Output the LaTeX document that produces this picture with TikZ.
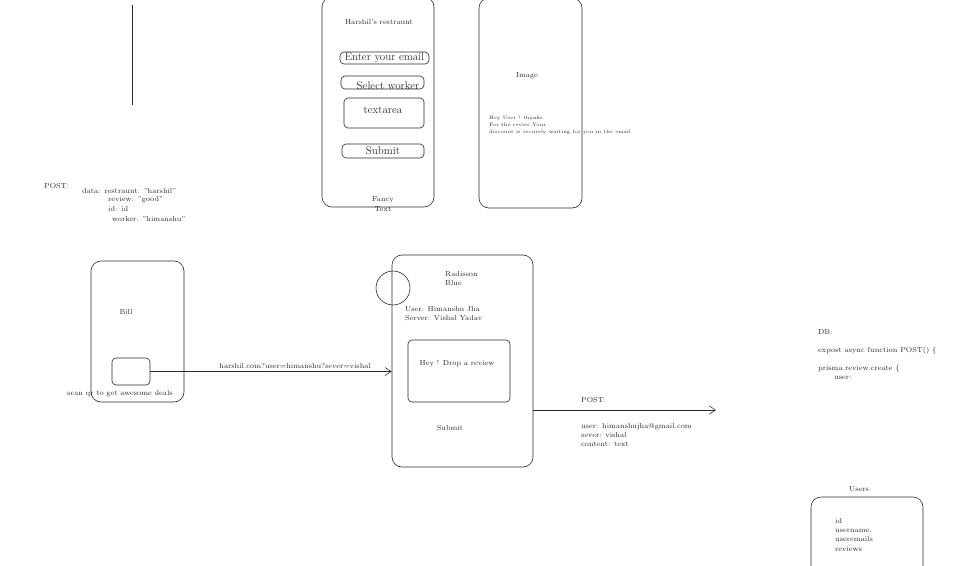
\documentclass[tikz,border=0pt]{standalone}
\usepackage{tikz}
\usepackage{xcolor}
\usetikzlibrary{arrows.meta,positioning}
\definecolor{ink}{HTML}{2A2A2A}

\begin{document}
\begin{tikzpicture}[x=1pt,y=-1pt, every node/.style={text=ink,inner sep=0pt}, phone/.style={draw=ink,line width=0.6pt,rounded corners=10pt}, field/.style={draw=ink,line width=0.6pt,rounded corners=4pt}, lbl/.style={font=\fontsize{7.3}{9.3}\selectfont}, big/.style={font=\fontsize{11}{13}\selectfont}, tiny/.style={font=\fontsize{4.9}{7}\selectfont}, arr/.style={-{Straight Barb[length=6pt,width=8pt]},draw=ink,line width=0.6pt}]
\useasboundingbox (0,0) rectangle (953,565);
% stray line top left
\coordinate (s1) at (132,5); \coordinate (s2) at (132,105);
\draw[ink,line width=0.6pt] (s1)--(s2);
% request body
\node[lbl,anchor=west] (post1) at (44,186) {POST:};
\node[lbl,anchor=west] (body1) at (82,191) {data: restraunt: "harshil"};
\node[lbl,anchor=west] (body2) at (108,200) {review: "good"};
\node[lbl,anchor=west] (body3) at (108,209) {id: id};
\node[lbl,anchor=west] (body4) at (112,219) {worker: "himanshu"};
% form screen
\node[phone,minimum width=112pt,minimum height=210pt] (form) at (378,102) {};
\node[lbl] (title) at (379,22) {Harshil's restraunt};
\node[field,big,minimum width=89pt,minimum height=12pt] (email) at (384.5,58) {Enter your email};
\node[field,minimum width=83pt,minimum height=13pt] (worker) at (382.5,82.5) {};
\node[big] (workertxt) at (388,86) {Select worker};
\node[field,minimum width=80pt,minimum height=30pt] (area) at (384,113) {};
\node[big] (areatxt) at (383,110) {textarea};
\node[field,big,minimum width=82pt,minimum height=14pt] (submit) at (383,151) {Submit};
\node[lbl,align=center] (fancy) at (383,204) {Fancy\\Text};
% thanks screen
\node[phone,minimum width=103pt,minimum height=210pt] (thanks) at (530.5,103) {};
\node[lbl] (image) at (527,76) {Image};
\node[tiny,anchor=north west,align=left] (thankstxt) at (489,116) {Hey User ! thanks\\For the revies Your\\discount is securely waiting for you in the email};
% bill
\node[phone,minimum width=93pt,minimum height=141pt] (bill) at (137.5,331.5) {};
\node[lbl] (billtxt) at (126,312) {Bill};
\node[field,minimum width=38pt,minimum height=27pt] (qr) at (131,371.5) {};
\node[lbl] (scan) at (120,394) {scan qr to get awesome deals};
% review screen
\node[phone,minimum width=141pt,minimum height=212pt] (review) at (462.5,361) {};
\node[draw=ink,line width=0.6pt,circle,minimum size=34pt] (logo) at (393,288) {};
\node[lbl,anchor=north west,align=left] (hotel) at (445,271) {Radisson\\Blue};
\node[lbl,anchor=north west,align=left] (staff) at (405,306) {User: Himanshu Jha\\Server: Vishal Yadav};
\node[field,minimum width=102pt,minimum height=62pt] (drop) at (459,371) {};
\node[lbl] (droptxt) at (457,364) {Hey ! Drop a review};
\node[lbl] (send) at (450,428) {Submit};
\draw[arr] (qr.east) -- (qr.east -| review.west) node[pos=0.6,above=3pt,lbl] (link) {harshil.com?user=himanshu?sever=vishal};
% api call
\coordinate (api) at (716,410);
\draw[arr] (review.east |- api) -- (api);
\node[lbl,anchor=west] (post2) at (581,400) {POST:};
\node[lbl,anchor=north west,align=left] (payload) at (581,423) {user: himanshujha@gmail.com\\sever: vishal\\content: text};
% db
\node[lbl,anchor=west] (db) at (818,332) {DB:};
\node[lbl,anchor=west] (fn) at (818,351) {expost async function POST() \{};
\node[lbl,anchor=west] (create) at (818,369) {prisma.review.create \{};
\node[lbl,anchor=west] (userkey) at (834,378) {user:};
% users table
\node[lbl] (userhead) at (859,489) {Users};
\node[phone,minimum width=112pt,minimum height=90pt] (users) at (867,542) {};
\node[lbl,anchor=north west,align=left] (cols) at (835,518) {id\\username,\\useremails\\reviews};
\end{tikzpicture}
\end{document}
